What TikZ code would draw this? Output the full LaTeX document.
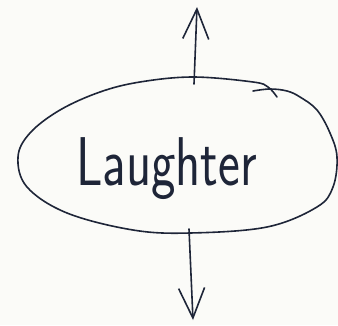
\documentclass[tikz,border=0pt]{standalone}
\usetikzlibrary{arrows.meta}
\definecolor{ink}{HTML}{1E2538}
\definecolor{paper}{HTML}{FBFBF8}
\begin{document}
\begin{tikzpicture}[x=1pt,y=-1pt,
  stroke/.style={draw=ink,line width=1.6pt,line cap=round,line join=round},
  arr/.style={stroke,-{Straight Barb[length=30pt,width=26pt,line width=1.6pt]}},
  label/.style={text=ink,font=\sffamily\fontsize{46}{50}\selectfont,inner sep=0pt,xscale=1.13,yscale=1.5}]
\fill[paper] (0,0) rectangle (338,325);
\useasboundingbox (0,0) rectangle (338,325);
% ellipse outline (hand-drawn, overlapping at top right)
\draw[stroke] plot[smooth,tension=0.6] coordinates {
  (277,97) (268,87) (253,82) (193,77) (140,82) (100,92) (60,110) (30,133)
  (18,157) (27,187) (67,213) (133,230) (190,233) (267,227) (317,207)
  (333,187) (337,157) (330,133) (317,110) (300,97) (287,91) (270,89) (253,91)};
\node[label,anchor=base west] (L) at (76,185) {Laughter};
\coordinate (top) at (194,84);
\coordinate (upend) at (197,7);
\coordinate (bot) at (189,229);
\coordinate (downend) at (193,320);
\draw[arr] (top) -- (upend);
\draw[arr] (bot) -- (downend);
\end{tikzpicture}
\end{document}
